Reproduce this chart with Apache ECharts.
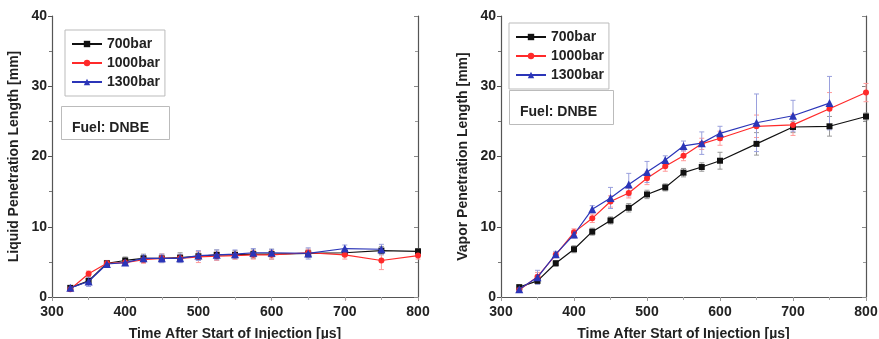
<!DOCTYPE html>
<html>
<head>
<meta charset="utf-8">
<script src="https://cdn.jsdelivr.net/npm/echarts@6/dist/echarts.min.js"></script>
<style>
  html, body { margin: 0; padding: 0; background: #fff; }
  #chart { width: 879px; height: 339px; }
</style>
</head>
<body>
<div id="chart"></div>
<script>
// time after start of injection [us]
const times = [325, 350, 375, 400, 425, 450, 475, 500, 525, 550, 575, 600, 650, 700, 750, 800];

// liquid penetration length [mm]
const liquid700  = [1.3, 2.3, 4.8, 5.2, 5.5, 5.5, 5.6, 5.8, 6.0, 6.0, 6.1, 6.1, 6.2, 6.3, 6.6, 6.5];
const liquid1000 = [1.1, 3.3, 4.8, 4.9, 5.3, 5.5, 5.5, 5.7, 5.8, 5.9, 6.0, 6.0, 6.3, 6.0, 5.2, 5.9];
const liquid1300 = [1.3, 2.2, 4.7, 4.9, 5.5, 5.5, 5.5, 5.9, 6.0, 6.1, 6.3, 6.3, 6.2, 6.9, 6.8];
const liquidErr700  = [0.3, 0.4, 0.4, 0.5, 0.6, 0.6, 0.7, 0.6, 0.7, 0.6, 0.6, 0.7, 0.6, 0.5, 0.6, 0.4];
const liquidErr1000 = [0.3, 0.4, 0.4, 0.4, 0.5, 0.6, 0.5, 0.8, 0.6, 0.5, 0.6, 0.6, 0.5, 0.6, 1.3, 0.5];
const liquidErr1300 = [0.3, 0.7, 0.4, 0.4, 0.5, 0.6, 0.6, 0.7, 0.7, 0.6, 0.6, 0.5, 0.8, 0.5, 0.7];

// vapor penetration length [mm]
const vapor700  = [1.4, 2.3, 4.8, 6.8, 9.3, 10.9, 12.7, 14.6, 15.6, 17.7, 18.5, 19.4, 21.8, 24.2, 24.3, 25.7];
const vapor1000 = [1.0, 2.9, 6.0, 9.2, 11.2, 13.6, 14.8, 16.9, 18.6, 20.1, 21.8, 22.6, 24.3, 24.5, 26.8, 29.1];
const vapor1300 = [1.1, 2.8, 6.1, 8.9, 12.5, 14.1, 16.0, 17.8, 19.5, 21.5, 21.9, 23.3, 24.8, 25.8, 27.6];
const vaporErr700  = [0.3, 0.4, 0.4, 0.5, 0.5, 0.5, 0.6, 0.6, 0.5, 0.6, 0.6, 1.2, 1.6, 0.8, 1.4, 0.5];
const vaporErr1000 = [0.3, 0.6, 0.4, 0.5, 0.6, 0.8, 0.7, 0.9, 0.7, 0.7, 0.8, 1.0, 1.6, 1.5, 2.3, 1.3];
const vaporErr1300 = [0.4, 1.0, 0.4, 0.5, 0.5, 1.5, 1.6, 1.5, 0.6, 0.7, 1.6, 1.0, 4.1, 2.2, 3.8];

const seriesNames = ['700bar', '1000bar', '1300bar'];
const xTicks = [300, 400, 500, 600, 700, 800];
const yTicks = [0, 10, 20, 30, 40];

const font = 'Liberation Sans, Arial, sans-serif';
const colors = ['#111111', '#ff2a2a', '#2b35b8'];
const errColors = ['#9a9a9a', '#ff9a9a', '#9aa0dd'];
const symbols = ['rect', 'circle', 'triangle'];

const chart = echarts.init(document.getElementById('chart'));

function pairs(vals) {
  return vals.map((v, i) => [times[i], v]);
}
function errData(vals, errs) {
  return vals.map((v, i) => [times[i], v, errs[i]]);
}

function mainAxes(gi, yName) {
  return {
    x: [
      {
        type: 'value', gridIndex: gi, min: xTicks[0], max: xTicks[xTicks.length - 1], interval: 100,
        name: 'Time After Start of Injection [µs]', nameLocation: 'middle', nameGap: 30,
        nameTextStyle: { fontFamily: font, fontWeight: 'bold', fontSize: 14, color: '#222' },
        axisLine: { lineStyle: { color: '#555', width: 1.2 } },
        axisTick: { inside: false, length: 4, lineStyle: { color: '#555' } },
        minorTick: { show: true, splitNumber: 2, length: 3, lineStyle: { color: '#777' } },
        axisLabel: { fontFamily: font, fontWeight: 'bold', fontSize: 14, color: '#222', margin: 8 },
        splitLine: { show: false }
      },
      {
        type: 'value', gridIndex: gi, position: 'top', min: 300, max: 800, interval: 100,
        axisLine: { lineStyle: { color: '#555', width: 1.2 } },
        axisTick: { inside: true, length: 4, lineStyle: { color: '#999' } },
        minorTick: { show: true, splitNumber: 2, length: 3, lineStyle: { color: '#aaa' } },
        axisLabel: { show: false }, splitLine: { show: false }
      }
    ],
    y: [
      {
        type: 'value', gridIndex: gi, min: yTicks[0], max: yTicks[yTicks.length - 1], interval: 10,
        name: yName, nameLocation: 'middle', nameGap: 31,
        nameTextStyle: { fontFamily: font, fontWeight: 'bold', fontSize: 14, color: '#222' },
        axisLine: { show: true, lineStyle: { color: '#555', width: 1.2 } },
        axisTick: { show: true, inside: false, length: 4, lineStyle: { color: '#555' } },
        minorTick: { show: true, splitNumber: 2, length: 3, lineStyle: { color: '#777' } },
        axisLabel: { fontFamily: font, fontWeight: 'bold', fontSize: 14, color: '#222', margin: 5 },
        splitLine: { show: false }
      },
      {
        type: 'value', gridIndex: gi, position: 'right', min: 0, max: 40, interval: 10,
        axisLine: { show: true, lineStyle: { color: '#555', width: 1.2 } },
        axisTick: { show: true, inside: true, length: 4, lineStyle: { color: '#888' } },
        minorTick: { show: true, splitNumber: 2, length: 3, lineStyle: { color: '#999' } },
        axisLabel: { show: false }, splitLine: { show: false }
      }
    ]
  };
}

const left = mainAxes(0, 'Liquid Penetration Length [mm]');
const right = mainAxes(1, 'Vapor Penetration Length [mm]');

function errSeries(xi, yi, vals, errs, k) {
  return {
    type: 'custom', name: 'err' + k, xAxisIndex: xi, yAxisIndex: yi, z: 1, silent: true,
    data: errData(vals, errs),
    renderItem: function (params, api) {
      const x = api.value(0), y = api.value(1), e = api.value(2);
      const top = api.coord([x, y + e]);
      const bot = api.coord([x, y - e]);
      const c = errColors[k];
      return {
        type: 'group',
        children: [
          { type: 'line', shape: { x1: top[0], y1: top[1], x2: bot[0], y2: bot[1] }, style: { stroke: c, lineWidth: 1 } },
          { type: 'line', shape: { x1: top[0] - 2.5, y1: top[1], x2: top[0] + 2.5, y2: top[1] }, style: { stroke: c, lineWidth: 1 } },
          { type: 'line', shape: { x1: bot[0] - 2.5, y1: bot[1], x2: bot[0] + 2.5, y2: bot[1] }, style: { stroke: c, lineWidth: 1 } }
        ]
      };
    }
  };
}

function lineSeries(xi, yi, vals, k) {
  return {
    type: 'line', name: seriesNames[k], xAxisIndex: xi, yAxisIndex: yi, z: 3 + k,
    data: pairs(vals),
    symbol: symbols[k], symbolSize: k === 2 ? 8 : 6,
    itemStyle: { color: colors[k] },
    lineStyle: { color: colors[k], width: 1.2 },
    emphasis: { disabled: true }
  };
}

const liquidSets = [[liquid700, liquidErr700], [liquid1000, liquidErr1000], [liquid1300, liquidErr1300]];
const vaporSets = [[vapor700, vaporErr700], [vapor1000, vaporErr1000], [vapor1300, vaporErr1300]];

const series = [];
liquidSets.forEach((s, k) => series.push(errSeries(0, 0, s[0], s[1], k)));
vaporSets.forEach((s, k) => series.push(errSeries(2, 2, s[0], s[1], k)));
liquidSets.forEach((s, k) => series.push(lineSeries(0, 0, s[0], k)));
vaporSets.forEach((s, k) => series.push(lineSeries(2, 2, s[0], k)));

function legendAt(x, y) {
  return {
    data: seriesNames, orient: 'vertical', left: x, top: y,
    backgroundColor: '#fff', borderColor: '#bbb', borderWidth: 1,
    padding: [6, 5, 6, 6], itemGap: 3, itemWidth: 30, itemHeight: 8,
    selectedMode: false,
    textStyle: { fontFamily: font, fontWeight: 'bold', fontSize: 14, color: '#222', lineHeight: 16 }
  };
}

function fuelBox(x, y, w, h) {
  return [
    { type: 'rect', left: x, top: y, shape: { width: w, height: h }, style: { fill: '#fff', stroke: '#bbb', lineWidth: 1 }, z: 10 },
    { type: 'text', left: x + 11, top: y + 15, style: { text: 'Fuel: DNBE', font: 'bold 14px ' + font, fill: '#222' }, z: 11 }
  ];
}

chart.setOption({
  animation: false,
  grid: [
    { left: 52, right: 461, top: 16, bottom: 42, outerBoundsMode: 'none', containLabel: false },
    { left: 501, right: 13, top: 16, bottom: 42, outerBoundsMode: 'none', containLabel: false }
  ],
  xAxis: left.x.concat(right.x),
  yAxis: left.y.concat(right.y),
  legend: [legendAt(65, 30), legendAt(509, 23)],
  graphic: fuelBox(61, 106, 108, 33).concat(fuelBox(509, 90, 104, 34)),
  series: series
});
</script>
</body>
</html>
